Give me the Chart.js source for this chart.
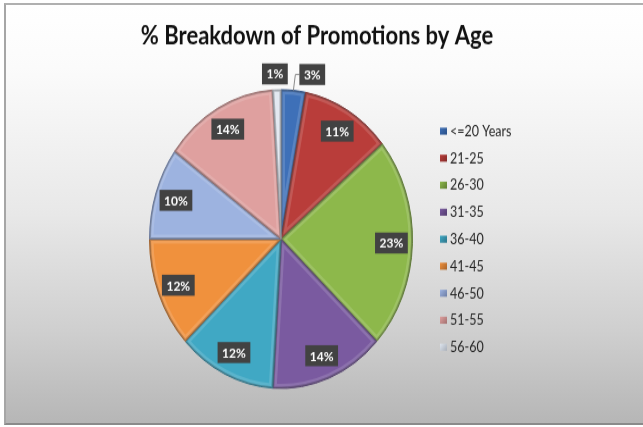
<!DOCTYPE html>
<html>
<head>
<meta charset="utf-8">
<script src="https://cdn.jsdelivr.net/npm/chart.js@4"></script>
<style>
  html, body { margin: 0; padding: 0; background: #fff; overflow: hidden; }
  #frame {
    position: absolute; left: 4px; top: 3px; width: 660px; height: 418px;
    border-top: 2px solid #b0b0b0; border-left: 2px solid #a6a6a6; border-bottom: 2px solid #8a8a8a;
    background: linear-gradient(to bottom, #ffffff 0%, #fbfbfb 15%, #e8e8e8 50%, #cfcfcf 78%, #b6b6b6 100%);
  }
  #wrap { position: absolute; left: 0; top: 0; transform: scaleY(1.1356); transform-origin: 0 0; }
</style>
</head>
<body>
<div id="frame"></div>
<div id="wrap"><canvas id="chart" width="643" height="376"></canvas></div>
<script>
const chartTitle = '% Breakdown of Promotions by Age';
const ageGroups = ['<=20 Years', '21-25', '26-30', '31-35', '36-40', '41-45', '46-50', '51-55', '56-60'];
const shares = [3, 11, 23, 14, 12, 12, 10, 14, 1];
const sliceColors = ['#3e70b8', '#b93d3a', '#8db84b', '#7a5aa0', '#40a8c4', '#f0913d', '#9db3e0', '#dfa09f', '#dfe6ef'];
const edgeColors  = ['#2a4f86', '#842b29', '#5f7e32', '#523c6e', '#2b7489', '#a8642a', '#6e7fa6', '#a27170', '#a9b0ba'];

const FONT = 'Lato, "Open Sans", sans-serif';

// bevel-ish rim on every slice
const bevelPlugin = {
    id: 'bevel',
    afterDatasetsDraw(chart) {
        const ctx = chart.ctx;
        chart.getDatasetMeta(0).data.forEach(arc => {
            const {x, y, startAngle, endAngle, outerRadius} = arc.getProps(['x', 'y', 'startAngle', 'endAngle', 'outerRadius'], true);
            ctx.save();
            ctx.beginPath();
            ctx.moveTo(x, y);
            ctx.arc(x, y, outerRadius, startAngle, endAngle);
            ctx.closePath();
            ctx.clip();
            ctx.lineJoin = 'round';
            ctx.lineWidth = 8;
            ctx.strokeStyle = 'rgba(255,255,255,0.14)';
            ctx.stroke();
            ctx.lineWidth = 3;
            ctx.strokeStyle = 'rgba(0,0,0,0.22)';
            ctx.stroke();
            ctx.restore();
        });
    }
};

// percentage boxes, small slices go outside
const valueLabels = {
    id: 'valueLabels',
    afterDatasetsDraw(chart) {
        const ctx = chart.ctx;
        const values = chart.data.datasets[0].data;
        ctx.save();
        ctx.font = 'bold 12px ' + FONT;
        ctx.textAlign = 'center';
        ctx.textBaseline = 'middle';
        chart.getDatasetMeta(0).data.forEach((arc, i) => {
            const {x, y, startAngle, endAngle, outerRadius} = arc.getProps(['x', 'y', 'startAngle', 'endAngle', 'outerRadius'], true);
            const mid = (startAngle + endAngle) / 2;
            const text = values[i] + '%';
            const w = ctx.measureText(text).width + 9;
            const h = 18.5;
            let cx, cy;
            if (values[i] < 5) {
                const ex = x + Math.cos(mid) * outerRadius;
                const ey = y + Math.sin(mid) * outerRadius;
                cy = ey - 14;
                if (Math.cos(mid) > 0) {
                    cx = ex + 6 + w / 2;
                    ctx.strokeStyle = '#8a8a8a';
                    ctx.lineWidth = 1;
                    ctx.beginPath();
                    ctx.moveTo(ex, ey);
                    ctx.lineTo(ex + 2, cy);
                    ctx.lineTo(ex + 6, cy);
                    ctx.stroke();
                } else {
                    cx = ex - 2;
                }
            } else {
                cx = x + Math.cos(mid) * outerRadius * 0.84;
                cy = y + Math.sin(mid) * outerRadius * 0.84;
            }
            ctx.fillStyle = '#424242';
            ctx.fillRect(cx - w / 2, cy - h / 2, w, h);
            ctx.fillStyle = '#ffffff';
            ctx.fillText(text, cx, cy + 0.5);
        });
        ctx.restore();
    }
};

// title and legend column
const decorations = {
    id: 'decorations',
    afterDraw(chart) {
        const ctx = chart.ctx;
        ctx.save();
        ctx.fillStyle = '#111';
        ctx.font = 'bold 22px ' + FONT;
        ctx.textAlign = 'center';
        ctx.textBaseline = 'middle';
        ctx.fillText(chartTitle, 317, 32);

        ctx.font = '12.5px ' + FONT;
        ctx.textAlign = 'left';
        chart.data.labels.forEach((lab, i) => {
            const yy = 115.4 + i * 23.78;
            const g = ctx.createLinearGradient(440, yy - 3, 447, yy + 3);
            g.addColorStop(0, sliceColors[i]);
            g.addColorStop(1, edgeColors[i]);
            ctx.fillStyle = g;
            ctx.fillRect(440, yy - 3, 7, 6.2);
            ctx.fillStyle = '#262626';
            ctx.fillText(lab, 450, yy + 0.5);
        });
        ctx.restore();
    }
};

new Chart(document.getElementById('chart'), {
    type: 'pie',
    data: {
        labels: ageGroups,
        datasets: [{
            data: shares,
            backgroundColor: sliceColors,
            borderColor: edgeColors,
            borderWidth: 1
        }]
    },
    options: {
        responsive: false,
        animation: false,
        layout: { padding: { left: 149, right: 230, top: 78.5, bottom: 33.5 } },
        plugins: { legend: { display: false }, tooltip: { enabled: false } }
    },
    plugins: [bevelPlugin, valueLabels, decorations]
});
</script>
</body>
</html>
